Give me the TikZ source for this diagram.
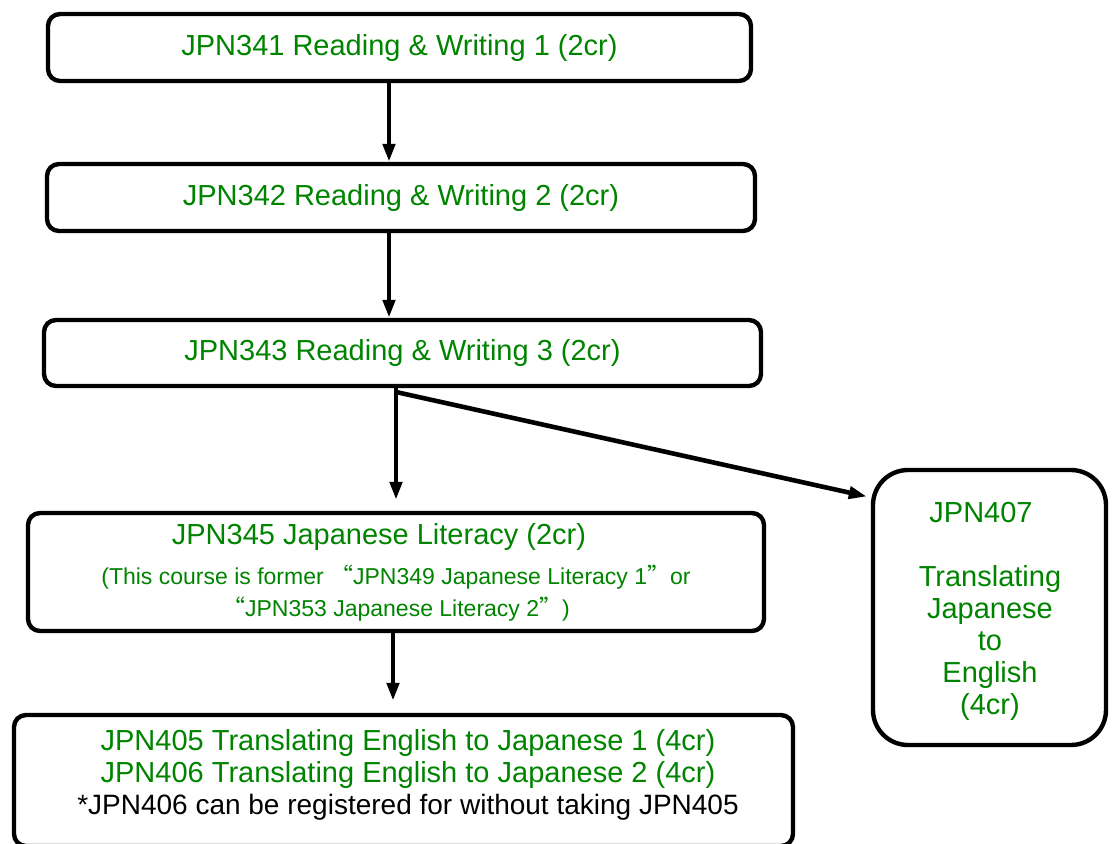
\documentclass[tikz,border=0pt]{standalone}
\usepackage{fontspec}
\setmainfont{Liberation Sans}
\newfontfamily\cjk[CharacterWidth=Full]{Noto Sans CJK JP}
\usepackage{xcolor}
\usetikzlibrary{calc}
\usetikzlibrary{arrows.meta}
\definecolor{crsgreen}{RGB}{0,132,0}

\begin{document}
\begin{tikzpicture}[x=1pt,y=-1pt,
		course/.style={draw,line width=4.4pt,rounded corners=12pt,inner sep=0pt,
			align=center,text=crsgreen,font=\fontsize{29}{32}\selectfont},
		link/.style={line width=4.6pt,-{Triangle[length=18pt,width=12pt]}}]
		\useasboundingbox (0,0) rectangle (1112,844);
		\clip (0,0) rectangle (1112,844);
		\def\qo{{\cjk “}}
		\def\qc{{\cjk ”}}
		\node[course,minimum width=703pt,minimum height=67pt] (rw1) at (399.5,47.5)
			{JPN341 Reading \& Writing 1 (2cr)};
		\node[course,minimum width=708pt,minimum height=67pt] (rw2) at (401,197.5)
			{JPN342 Reading \& Writing 2 (2cr)};
		\node[course,minimum width=717pt,minimum height=66pt] (rw3) at (402.5,353)
			{JPN343 Reading \& Writing 3 (2cr)};
		\node[course,minimum width=736pt,minimum height=118pt] (lit) at (396,572)
			{JPN345 Japanese Literacy (2cr)\hspace*{34pt}\\[8pt]
			{\fontsize{23}{31}\selectfont (This course is former \qo JPN349 Japanese Literacy 1\qc or}\\
			{\fontsize{23}{31}\selectfont\qo JPN353 Japanese Literacy 2\qc)}};
		\node[course,minimum width=779pt,minimum height=131pt] (tej) at (403.5,780.5) {};
		\node[align=center,text=crsgreen,font=\fontsize{29}{32}\selectfont] (tejtext) at (408,775)
			{JPN405 Translating English to Japanese 1 (4cr)\\
			JPN406 Translating English to Japanese 2 (4cr)\\
			{\color{black}\fontsize{28}{32}\selectfont *JPN406 can be registered for without taking JPN405}};
		\node[course,rounded corners=35pt,minimum width=233pt,minimum height=275pt] (tje) at (989.5,607.5) {};
		\node[align=center,text=crsgreen,font=\fontsize{29}{32}\selectfont] (tjetext) at (990,611)
			{JPN407\hspace*{18pt}\\ \\ Translating\\ Japanese\\ to\\ English\\ (4cr)};
		\coordinate (ax) at (389,0);
		\coordinate (split) at (396,392);
		\coordinate (tjein) at ($(tje.west)+(-4,-111)$);
		\draw[link] (ax |- rw1.south) -- (ax |- rw2.north);
		\draw[link] (ax |- rw2.south) -- (ax |- rw3.north);
		\draw[line width=4.6pt] (rw3.south -| split) -- (split);
		\draw[link,shorten >=11pt] (split) -- (split |- lit.north);
		\draw[link] (split) -- (tjein);
		\draw[link,shorten >=12pt] (lit.south -| 393,0) -- (tej.north -| 393,0);
	\end{tikzpicture}
\end{document}
